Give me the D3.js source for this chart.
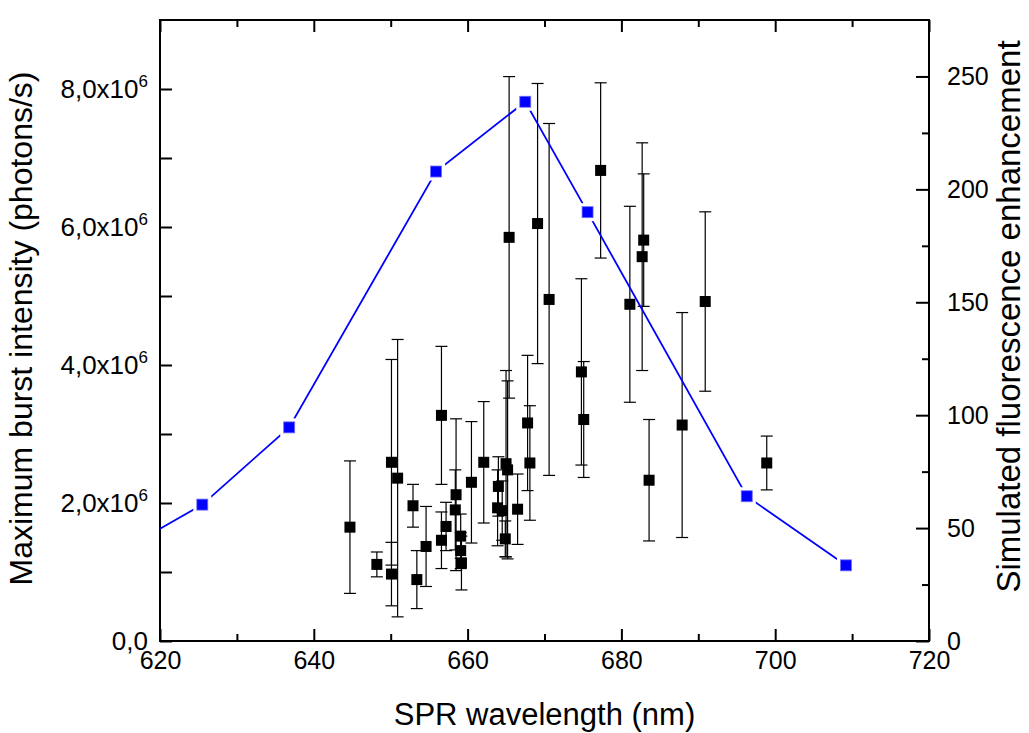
<!DOCTYPE html>
<html>
<head>
<meta charset="utf-8">
<script src="https://cdn.jsdelivr.net/npm/d3@7"></script>
<style>
  html, body { margin: 0; padding: 0; background: #fff; overflow: hidden; }
  svg { display: block; }
  text { font-family: "Liberation Sans", Arial, sans-serif; fill: #000; }
</style>
</head>
<body>
<svg id="chart" width="1029" height="733"></svg>
<script>
// measured burst data (x = SPR wavelength nm, y = max burst intensity in 1e6 photons/s, err = +/-)
const wavelength = [644.7, 648.2, 650.1, 650.1, 650.9, 652.9, 653.4, 654.6, 656.6, 656.6,
  657.2, 658.5, 658.4, 659.1, 659.1, 659.2, 660.5, 662.1, 664.0, 663.9,
  664.5, 665.0, 665.2, 664.9, 666.5, 667.8, 668.1, 665.4, 669.1, 670.6,
  674.8, 675.1, 677.3, 681.1, 682.7, 682.9, 683.6, 687.9, 690.9, 698.9];
const burst = [1.65, 1.11, 2.59, 0.97, 2.36, 1.96, 0.89, 1.37, 3.27, 1.46,
  1.66, 2.12, 1.90, 1.52, 1.31, 1.13, 2.30, 2.59, 2.24, 1.93,
  1.89, 2.57, 2.48, 1.48, 1.91, 3.16, 2.58, 5.85, 6.05, 4.95,
  3.90, 3.21, 6.82, 4.88, 5.57, 5.81, 2.33, 3.13, 4.92, 2.58];
const burstErr = [0.96, 0.18, 1.49, 0.46, 2.01, 0.31, 0.42, 0.58, 1.00, 0.41,
  0.35, 1.10, 0.58, 0.32, 0.26, 0.39, 0.88, 0.88, 0.43, 0.55,
  0.43, 1.35, 1.29, 0.26, 0.51, 0.98, 0.83, 2.33, 2.03, 2.55,
  1.35, 0.84, 1.27, 1.42, 1.65, 0.96, 0.88, 1.63, 1.30, 0.39];

// simulated enhancement (right axis)
const simWavelength = [614, 625.5, 636.8, 655.9, 667.5, 675.6, 696.3, 709.2];
const simEnhancement = [38, 60.4, 94.6, 207.9, 238.8, 189.9, 64.1, 33.5];

const xTicks = [620, 640, 660, 680, 700, 720];
const leftTicks = [0, 2, 4, 6, 8]; // x10^6
const rightTicks = [0, 50, 100, 150, 200, 250];

const margin = { top: 20, right: 100, bottom: 92, left: 160 },
  width = 1029,
  height = 733,
  innerWidth = width - margin.left - margin.right,
  innerHeight = height - margin.top - margin.bottom;

const svg = d3.select("#chart")
  .append("g")
  .attr("transform", `translate(${margin.left},${margin.top})`);

const x = d3.scaleLinear().domain([620, 720]).range([0, innerWidth]);
const yLeft = d3.scaleLinear().domain([0, 9]).range([innerHeight, 0]);
const yRight = d3.scaleLinear().domain([0, 275]).range([innerHeight, 0]);

svg.append("clipPath").attr("id", "clip")
  .append("rect").attr("width", innerWidth).attr("height", innerHeight);

// AXES (ticks point inward)
const xAxis = svg.append("g")
  .attr("transform", `translate(0,${innerHeight})`)
  .call(d3.axisBottom(x).tickValues(d3.range(620, 721, 10)).tickSize(-7).tickPadding(10)
    .tickFormat(d => xTicks.includes(d) ? d : ""));
xAxis.selectAll(".tick line").filter(d => xTicks.includes(d)).attr("y2", -12);

const xTop = svg.append("g")
  .call(d3.axisTop(x).tickValues(d3.range(620, 721, 10)).tickSize(-7).tickFormat(""));
xTop.selectAll(".tick line").filter(d => xTicks.includes(d)).attr("y2", 12);

const yAxisL = svg.append("g")
  .call(d3.axisLeft(yLeft).tickValues(d3.range(0, 9, 1)).tickSize(-12).tickFormat(""));

const yAxisR = svg.append("g")
  .attr("transform", `translate(${innerWidth},0)`)
  .call(d3.axisRight(yRight).tickValues(d3.range(0, 251, 25)).tickSize(-7).tickPadding(18)
    .tickFormat(d => rightTicks.includes(d) ? d : ""));
yAxisR.selectAll(".tick line").filter(d => rightTicks.includes(d)).attr("x2", -13);

[xAxis, xTop, yAxisL, yAxisR].forEach(a => {
  a.attr("font-size", 25).attr("font-family", null);
  a.select(".domain").remove();
  a.selectAll(".tick line").attr("stroke", "#000").attr("stroke-width", 2);
  a.selectAll(".tick text").filter(function () { return this.textContent === ""; }).remove();
});

// left labels like 8,0x10^6
const leftLab = svg.append("g").selectAll("text")
  .data(leftTicks)
  .join("text")
  .attr("x", -12)
  .attr("y", d => yLeft(d) + 9)
  .attr("text-anchor", "end")
  .attr("font-size", 26);
leftLab.each(function (d) {
  const t = d3.select(this);
  if (d === 0) { t.text("0,0"); return; }
  t.append("tspan").text(d + ",0x10");
  t.append("tspan").attr("dy", -11).attr("font-size", 17).text("6");
});

// frame
svg.append("rect")
  .attr("width", innerWidth).attr("height", innerHeight)
  .attr("fill", "none").attr("stroke", "#000").attr("stroke-width", 2);

// ERROR BARS + POINTS
const data = wavelength.map((w, i) => ({ w: w, v: burst[i], e: burstErr[i] }));
const bars = svg.append("g").attr("clip-path", "url(#clip)");
bars.selectAll(".err")
  .data(data)
  .join("line")
  .attr("x1", d => x(d.w)).attr("x2", d => x(d.w))
  .attr("y1", d => yLeft(d.v - d.e)).attr("y2", d => yLeft(d.v + d.e))
  .attr("stroke", "#000").attr("stroke-width", 1.2);
["top", "bot"].forEach(k => {
  bars.selectAll(".cap-" + k)
    .data(data)
    .join("line")
    .attr("x1", d => x(d.w) - 6).attr("x2", d => x(d.w) + 6)
    .attr("y1", d => yLeft(k === "top" ? d.v + d.e : d.v - d.e))
    .attr("y2", d => yLeft(k === "top" ? d.v + d.e : d.v - d.e))
    .attr("stroke", "#000").attr("stroke-width", 1.2);
});
bars.selectAll(".pt")
  .data(data)
  .join("rect")
  .attr("x", d => x(d.w) - 5.5).attr("y", d => yLeft(d.v) - 5.5)
  .attr("width", 11).attr("height", 11)
  .attr("fill", "#000");

// SIMULATED LINE
const sim = simWavelength.map((w, i) => ({ w: w, v: simEnhancement[i] }));
const simG = svg.append("g").attr("clip-path", "url(#clip)");
simG.append("path")
  .datum(sim)
  .attr("d", d3.line().x(d => x(d.w)).y(d => yRight(d.v)))
  .attr("fill", "none").attr("stroke", "#0000ff").attr("stroke-width", 1.8);
simG.selectAll(".gap")
  .data(sim)
  .join("rect")
  .attr("x", d => x(d.w) - 9).attr("y", d => yRight(d.v) - 9)
  .attr("width", 18).attr("height", 18)
  .attr("fill", "#fff");
simG.selectAll(".sp")
  .data(sim)
  .join("rect")
  .attr("x", d => x(d.w) - 5.5).attr("y", d => yRight(d.v) - 5.5)
  .attr("width", 11).attr("height", 11)
  .attr("fill", "#0000ff").attr("stroke", "#6f6fff").attr("stroke-width", 0.8);

// AXIS TITLES
svg.append("text")
  .attr("x", innerWidth / 2).attr("y", innerHeight + 84)
  .attr("text-anchor", "middle").attr("font-size", 31)
  .text("SPR wavelength (nm)");
svg.append("text")
  .attr("transform", `translate(${-128},${innerHeight / 2 - 2}) rotate(-90)`)
  .attr("text-anchor", "middle").attr("font-size", 32)
  .text("Maximum burst intensity (photons/s)");
svg.append("text")
  .attr("transform", `translate(${innerWidth + 91},${innerHeight / 2 - 14}) rotate(-90)`)
  .attr("text-anchor", "middle").attr("font-size", 33)
  .text("Simulated fluorescence enhancement");
</script>
</body>
</html>
